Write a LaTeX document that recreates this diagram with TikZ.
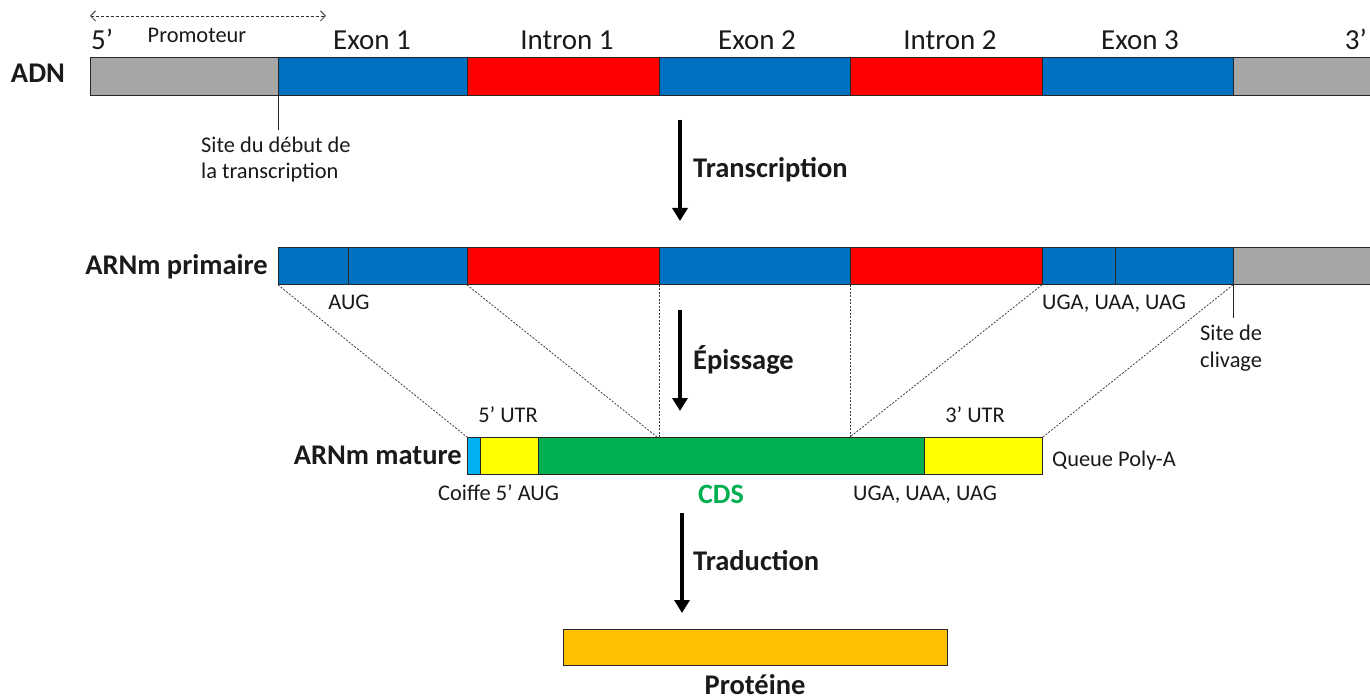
\documentclass[tikz,border=0pt]{standalone}
\usepackage{fontspec}
\setmainfont{Carlito}
\usetikzlibrary{arrows.meta}
\definecolor{cblue}{HTML}{0070C0}
\definecolor{cred}{HTML}{FF0000}
\definecolor{cgray}{HTML}{A6A6A6}
\definecolor{cgreen}{HTML}{00B050}
\definecolor{cyellow}{HTML}{FFFF00}
\definecolor{ccap}{HTML}{00B0F0}
\definecolor{corange}{HTML}{FFC000}
\definecolor{ctext}{HTML}{1A1A1A}
\begin{document}
\begin{tikzpicture}[x=1pt,y=-1pt,
  seg/.style={draw=black!85, line width=0.9pt, inner sep=0pt, anchor=north west, minimum height=37pt},
  big/.style={font=\fontsize{29}{32}\selectfont, text=ctext, inner sep=0pt},
  bigb/.style={font=\fontsize{28.5}{32}\selectfont\bfseries, text=ctext, inner sep=0pt},
  small/.style={font=\fontsize{22.4}{26}\selectfont, text=ctext, inner sep=0pt},
  splice/.style={draw=black!75, line width=0.8pt, dash pattern=on 2pt off 1.5pt},
  bigarrow/.style={line width=3.6pt, -{Triangle[width=15pt,length=13pt]}},
]
\useasboundingbox (0,0) rectangle (1370,700);
\fill[white] (0,0) rectangle (1370,700);

% ---- ADN ----
\node[seg, fill=cgray, minimum width=188pt, minimum height=38pt] (d0) at (90,57) {};
\node[seg, fill=cblue, minimum width=189pt, minimum height=38pt] (d1) at (278,57) {};
\node[seg, fill=cred, minimum width=192pt, minimum height=38pt] (d2) at (467,57) {};
\node[seg, fill=cblue, minimum width=191pt, minimum height=38pt] (d3) at (659,57) {};
\node[seg, fill=cred, minimum width=192pt, minimum height=38pt] (d4) at (850,57) {};
\node[seg, fill=cblue, minimum width=191pt, minimum height=38pt] (d5) at (1042,57) {};
\node[seg, fill=cgray, minimum width=150pt, minimum height=38pt] (d6) at (1233,57) {};

\node[bigb, anchor=base] (adn) at (38,83) {ADN};
\node[big, anchor=base west] (p5) at (91,50) {5’};
\node[big, anchor=base east] (p3) at (1367,50) {3’};
\node[big, anchor=base] (ex1) at (372,50) {Exon 1};
\node[big, anchor=base] (in1) at (567,50) {Intron 1};
\node[big, anchor=base] (ex2) at (757,50) {Exon 2};
\node[big, anchor=base] (in2) at (950,50) {Intron 2};
\node[big, anchor=base] (ex3) at (1140,50) {Exon 3};
\node[small, anchor=base] (prom) at (197,43) {Promoteur};
\coordinate (pa) at (90,16);
\coordinate (pb) at (326,16);
\draw[black!80, line width=0.8pt, dash pattern=on 3pt off 2pt, {Straight Barb[length=5pt,width=10pt]}-{Straight Barb[length=5pt,width=10pt]}] (pa) -- (pb);

\coordinate (tss) at (278,130);
\draw[black!85, line width=0.9pt] (d1.south west) -- (tss);
\node[small, anchor=base west] (site1) at (201,153) {Site du début de};
\node[small, anchor=base west] (site2) at (201,179) {la transcription};

% ---- Transcription ----
\coordinate (t1) at (680,120);
\coordinate (t2) at (680,221);
\draw[bigarrow] (t1) -- (t2);
\node[bigb, anchor=base west] (trans) at (693,178) {Transcription};

% ---- ARNm primaire ----
\node[seg, fill=cblue, minimum width=70pt] (q0) at (278,247) {};
\node[seg, fill=cblue, minimum width=119pt] (q1) at (348,247) {};
\node[seg, fill=cred, minimum width=192pt] (q2) at (467,247) {};
\node[seg, fill=cblue, minimum width=191pt] (q3) at (659,247) {};
\node[seg, fill=cred, minimum width=192pt] (q4) at (850,247) {};
\node[seg, fill=cblue, minimum width=73pt] (q5) at (1042,247) {};
\node[seg, fill=cblue, minimum width=118pt] (q6) at (1115,247) {};
\node[seg, fill=cgray, minimum width=150pt] (q7) at (1233,247) {};

\node[bigb, anchor=base east] (arnp) at (268,275) {ARNm primaire};
\node[small, anchor=base] (aug1) at (349,310) {AUG};
\node[small, anchor=base west] (stop1) at (1042,310) {UGA, UAA, UAG};
\coordinate (clv) at (1233,318);
\draw[black!85, line width=0.9pt] (q7.south west) -- (clv);
\node[small, anchor=base west] (clv1) at (1200,341) {Site de};
\node[small, anchor=base west] (clv2) at (1200,367) {clivage};

% ---- Epissage ----
\coordinate (e1) at (680,310);
\coordinate (e2) at (680,411);
\draw[bigarrow] (e1) -- (e2);
\node[bigb, anchor=base west] (epi) at (693,369) {Épissage};

% ---- ARNm mature ----
\node[seg, fill=ccap, minimum width=13pt] (m0) at (467,437) {};
\node[seg, fill=cyellow, minimum width=58pt] (m1) at (480,437) {};
\node[seg, fill=cgreen, minimum width=386pt] (m2) at (538,437) {};
\node[seg, fill=cyellow, minimum width=118pt] (m3) at (924,437) {};

\node[bigb, anchor=base east] (arnm) at (462,464) {ARNm mature};
\node[small, anchor=base] (utr5) at (508,422) {5’ UTR};
\node[small, anchor=base] (utr3) at (975,422) {3’ UTR};
\node[small, anchor=base west] (polya) at (1052,466) {Queue Poly-A};
\node[small, anchor=base west] (coiffe) at (438,500) {Coiffe 5’ AUG};
\node[font=\fontsize{28}{32}\selectfont\bfseries, text=cgreen, inner sep=0pt, anchor=base] (cds) at (721,503) {CDS};
\node[small, anchor=base] (stop2) at (925,500) {UGA, UAA, UAG};

% splicing joins
\coordinate (j1) at (q3.south west |- m2.north);
\coordinate (j2) at (q4.south west |- m2.north);
\draw[splice] (q0.south west) -- (m0.north west);
\draw[splice] (q2.south west) -- ([xshift=-2pt]j1);
\draw[splice] (q3.south west) -- (j1);
\draw[splice] (q4.south west) -- (j2);
\draw[splice] (q5.south west) -- (j2);
\draw[splice] (q7.south west) -- (m3.north east);

% ---- Traduction ----
\coordinate (r1) at (682,513);
\coordinate (r2) at (682,613);
\draw[bigarrow] (r1) -- (r2);
\node[bigb, anchor=base west] (trad) at (693,570) {Traduction};

% ---- Proteine ----
\node[seg, fill=corange, minimum width=384pt, minimum height=36pt] (prot) at (563,629) {};
\node[bigb, anchor=base] (protl) at (755,694) {Protéine};
\end{tikzpicture}
\end{document}
